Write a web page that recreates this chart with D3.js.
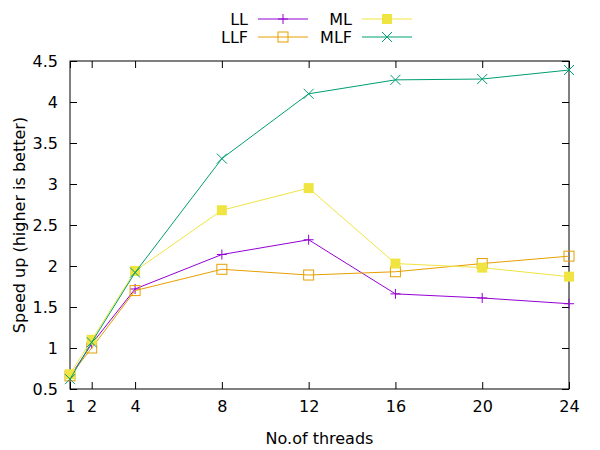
<!DOCTYPE html>
<html>
<head>
<meta charset="utf-8">
<script src="https://cdn.jsdelivr.net/npm/d3@7"></script>
<style>
  body { margin: 0; background: #fff; }
  svg { font-family: "DejaVu Sans", sans-serif; }
</style>
</head>
<body>
<div id="chart"></div>
<script>
// data
const threads = [1, 2, 4, 8, 12, 16, 20, 24];
const LL  = [0.65, 1.05, 1.72, 2.14, 2.32, 1.66, 1.61, 1.54];
const LLF = [0.66, 1.00, 1.70, 1.96, 1.89, 1.93, 2.03, 2.12];
const ML  = [0.68, 1.10, 1.94, 2.68, 2.95, 2.03, 1.98, 1.87];
const MLF = [0.62, 1.07, 1.92, 3.31, 4.10, 4.27, 4.28, 4.39];
const yTicks = [0.5, 1, 1.5, 2, 2.5, 3, 3.5, 4, 4.5];

const series = [
  {name: "LL",  values: LL,  color: "#9400d3", mark: "plus"},
  {name: "LLF", values: LLF, color: "#e69f00", mark: "openSquare"},
  {name: "ML",  values: ML,  color: "#f0e442", mark: "filledSquare"},
  {name: "MLF", values: MLF, color: "#009e73", mark: "cross"}
];

const W = 600, H = 450;
const MARGIN = {top: 61, right: 31, bottom: 61, left: 70};
const w = W - MARGIN.left - MARGIN.right;
const h = H - MARGIN.top - MARGIN.bottom;
const FONT = 16;

const svg = d3.select("#chart").append("svg")
    .attr("width", W).attr("height", H);

const g = svg.append("g")
    .attr("transform", `translate(${MARGIN.left},${MARGIN.top})`);

const x = d3.scaleLinear().domain([1, 24]).range([0, w]);
const y = d3.scaleLinear().domain([0.5, 4.5]).range([h, 0]);

// ticks pointing inward on all 4 sides (gnuplot style)
const TL = 7;
g.append("g").attr("transform", `translate(0,${h})`)
    .call(d3.axisBottom(x).tickValues(threads).tickSizeInner(-TL).tickSizeOuter(0).tickPadding(12))
    .call(a => a.select(".domain").remove());
g.append("g")
    .call(d3.axisTop(x).tickValues(threads).tickSizeInner(-TL).tickSizeOuter(0).tickFormat(""))
    .call(a => a.select(".domain").remove());
g.append("g")
    .call(d3.axisLeft(y).tickValues(yTicks).tickSizeInner(-TL).tickSizeOuter(0).tickPadding(12).tickFormat(d3.format("")))
    .call(a => a.select(".domain").remove());
g.append("g").attr("transform", `translate(${w},0)`)
    .call(d3.axisRight(y).tickValues(yTicks).tickSizeInner(-TL).tickSizeOuter(0).tickFormat(""))
    .call(a => a.select(".domain").remove());

g.selectAll(".tick text").attr("font-size", FONT).attr("fill", "#000")
    .attr("font-family", "DejaVu Sans");
g.selectAll(".tick line").attr("stroke", "#000");

g.append("rect")
    .attr("width", w).attr("height", h)
    .attr("fill", "none").attr("stroke", "#000").attr("stroke-width", 1);

// axis titles
svg.append("text")
    .attr("x", MARGIN.left + w / 2).attr("y", 444)
    .attr("text-anchor", "middle").attr("font-size", FONT)
    .text("No.of threads");
svg.append("text")
    .attr("transform", `translate(25,${MARGIN.top + h / 2}) rotate(-90)`)
    .attr("text-anchor", "middle").attr("font-size", FONT)
    .text("Speed up (higher is better)");

// point symbols
function drawMark(sel, type, color, cx, cy) {
  const s = 5;
  if (type === "plus") {
    sel.append("path").attr("d", `M${cx - s},${cy}H${cx + s}M${cx},${cy - s}V${cy + s}`)
        .attr("stroke", color).attr("stroke-width", 1).attr("fill", "none");
  } else if (type === "cross") {
    sel.append("path").attr("d", `M${cx - s},${cy - s}L${cx + s},${cy + s}M${cx - s},${cy + s}L${cx + s},${cy - s}`)
        .attr("stroke", color).attr("stroke-width", 1).attr("fill", "none");
  } else if (type === "openSquare") {
    sel.append("rect").attr("x", cx - s).attr("y", cy - s).attr("width", 2 * s).attr("height", 2 * s)
        .attr("stroke", color).attr("stroke-width", 1).attr("fill", "none");
  } else {
    sel.append("rect").attr("x", cx - s).attr("y", cy - s).attr("width", 2 * s).attr("height", 2 * s)
        .attr("fill", color);
  }
}

const line = d3.line().x((d, i) => x(threads[i])).y(d => y(d));

series.forEach(s => {
  const sg = g.append("g");
  sg.append("path").datum(s.values)
      .attr("d", line).attr("fill", "none")
      .attr("stroke", s.color).attr("stroke-width", 1);
  s.values.forEach((v, i) => drawMark(sg, s.mark, s.color, x(threads[i]), y(v)));
});

// legend: 2 columns, 2 rows
const legendPos = [
  {tx: 248, y: 19}, {tx: 248, y: 37},
  {tx: 352, y: 19}, {tx: 352, y: 37}
];
series.forEach((s, i) => {
  const p = legendPos[i];
  const lg = svg.append("g");
  lg.append("text").attr("x", p.tx).attr("y", p.y).attr("dy", "0.35em")
      .attr("text-anchor", "end").attr("font-size", FONT).text(s.name);
  lg.append("line").attr("x1", p.tx + 10).attr("x2", p.tx + 60)
      .attr("y1", p.y).attr("y2", p.y)
      .attr("stroke", s.color).attr("stroke-width", 1);
  drawMark(lg, s.mark, s.color, p.tx + 35, p.y);
});
</script>
</body>
</html>
